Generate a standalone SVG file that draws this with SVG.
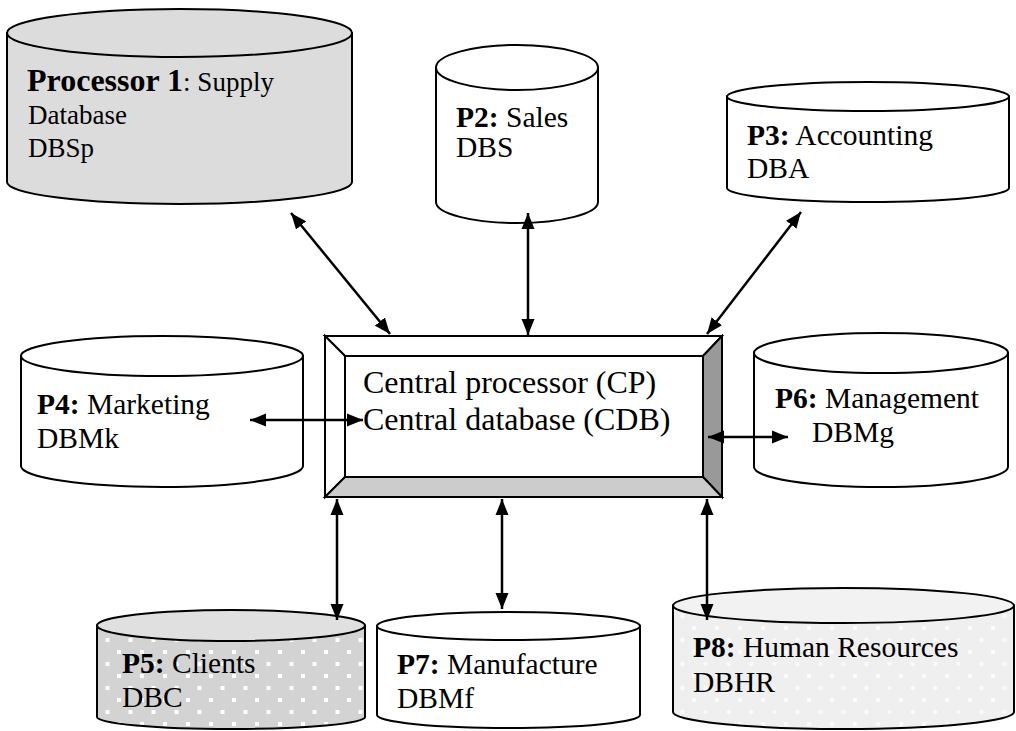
<svg xmlns="http://www.w3.org/2000/svg" width="1016" height="731" viewBox="0 0 1016 731">
<style>
.cyl{stroke:#000;stroke-width:2}
.w{fill:#fff}
.t{font-family:"Liberation Serif","Times New Roman",serif;font-size:29.5px;fill:#000}
.b{font-weight:bold}
.bev{stroke:#000;stroke-width:2;stroke-linejoin:miter}
.con{stroke:#000;stroke-width:2.5;fill:none;marker-start:url(#ah);marker-end:url(#ah)}
</style>
<defs>
<marker id="ah" markerUnits="userSpaceOnUse" markerWidth="17" markerHeight="14" refX="16" refY="6.5" orient="auto-start-reverse" viewBox="0 0 17 13">
<path d="M0,0 L16,6.5 L0,13 Z" fill="#000"/>
</marker>
<pattern id="dots5" patternUnits="userSpaceOnUse" width="23" height="24">
<rect width="23" height="24" fill="#d3d3d3"/>
<rect x="2" y="2" width="4" height="4" fill="#fff"/>
<rect x="13.5" y="14" width="4" height="4" fill="#fff"/>
</pattern>
<pattern id="dots8" patternUnits="userSpaceOnUse" width="23" height="24">
<rect width="23" height="24" fill="#efefef"/>
<rect x="2" y="2" width="4" height="4" fill="#fafafa"/>
<rect x="13.5" y="14" width="4" height="4" fill="#fafafa"/>
</pattern>
</defs>

<g id="p1">
<path class="cyl" fill="#dcdcdc" d="M7,33 L7,182 A172.5,22 0 0 0 352,182 L352,33 Z"/>
<ellipse class="cyl" fill="#dcdcdc" cx="179.5" cy="33" rx="172.5" ry="24"/>
<text class="t" x="27" y="91"><tspan class="b" style="font-size:32px">Processor 1</tspan><tspan style="font-size:27px">: Supply</tspan></text>
<text class="t" x="28" y="124" style="font-size:27px">Database</text>
<text class="t" x="28" y="157" style="font-size:27px">DBSp</text>
</g>

<g id="p2">
<path class="cyl w" d="M436,67.5 L436,202 A81,21 0 0 0 598,202 L598,67.5 Z"/>
<ellipse class="cyl w" cx="517" cy="67.5" rx="81" ry="22.5"/>
<text class="t" x="456" y="127"><tspan class="b">P2:</tspan> Sales</text>
<text class="t" x="456" y="157">DBS</text>
</g>

<g id="p3">
<path class="cyl w" d="M727,96.5 L727,188 A141,14 0 0 0 1009,188 L1009,96.5 Z"/>
<ellipse class="cyl w" cx="868" cy="96.5" rx="141" ry="14.5"/>
<text class="t" x="747" y="145"><tspan class="b">P3:</tspan> Accounting</text>
<text class="t" x="747" y="178">DBA</text>
</g>

<g id="p4">
<path class="cyl w" d="M21,356 L21,466 A141,21 0 0 0 303,466 L303,356 Z"/>
<ellipse class="cyl w" cx="162" cy="356" rx="141" ry="20"/>
<text class="t" x="37" y="414"><tspan class="b">P4:</tspan> Marketing</text>
<text class="t" x="37" y="448">DBMk</text>
</g>

<g id="cp">
<polygon class="bev" fill="#fff" points="325,336 722,336 703,356 345,356"/>
<polygon class="bev" fill="#fff" points="325,336 345,356 345,477 325,497"/>
<polygon class="bev" fill="#999" points="722,336 722,497 703,477 703,356"/>
<polygon class="bev" fill="#ccc" points="325,497 722,497 703,477 345,477"/>
<rect class="bev" fill="#fff" x="345" y="356" width="358" height="121"/>
<text class="t" x="363" y="393" style="font-size:32px">Central processor (CP)</text>
<text class="t" x="363" y="430" style="font-size:32px">Central database (CDB)</text>
</g>

<g id="p6">
<path class="cyl w" d="M754,353 L754,467 A127,20 0 0 0 1008,467 L1008,353 Z"/>
<ellipse class="cyl w" cx="881" cy="353" rx="127" ry="20"/>
<text class="t" x="775" y="408"><tspan class="b">P6:</tspan> Management</text>
<text class="t" x="812" y="442">DBMg</text>
</g>

<g id="p5">
<path class="cyl" fill="url(#dots5)" d="M97,625.5 L97,717 A134,12 0 0 0 365,717 L365,625.5 Z"/>
<ellipse class="cyl" fill="#e0e0e0" cx="231" cy="625.5" rx="134" ry="15.5"/>
<text class="t" x="122" y="673"><tspan class="b">P5:</tspan> Clients</text>
<text class="t" x="122" y="707">DBC</text>
</g>

<g id="p7">
<path class="cyl w" d="M377,626 L377,715 A131.5,13 0 0 0 640,715 L640,626 Z"/>
<ellipse class="cyl w" cx="508.5" cy="626" rx="131.5" ry="14"/>
<text class="t" x="397" y="674"><tspan class="b">P7:</tspan> Manufacture</text>
<text class="t" x="397" y="708">DBMf</text>
</g>

<g id="p8">
<path class="cyl" fill="url(#dots8)" d="M673,605.5 L673,712 A170.5,17 0 0 0 1014,712 L1014,605.5 Z"/>
<ellipse class="cyl" fill="#f2f2f2" cx="843.5" cy="605.5" rx="170.5" ry="17.5"/>
<text class="t" x="693" y="657"><tspan class="b">P8:</tspan> Human Resources</text>
<text class="t" x="693" y="692">DBHR</text>
</g>

<g id="connectors">
<line class="con" x1="291" y1="213" x2="390" y2="334"/>
<line class="con" x1="528" y1="213" x2="528" y2="335"/>
<line class="con" x1="801" y1="212" x2="707" y2="334"/>
<line class="con" x1="250" y1="420" x2="363" y2="420"/>
<line class="con" x1="708" y1="437" x2="788" y2="437"/>
<line class="con" x1="337" y1="499" x2="337" y2="620"/>
<line class="con" x1="502" y1="499" x2="502" y2="609"/>
<line class="con" x1="707" y1="499" x2="707" y2="620"/>
</g>
</svg>
